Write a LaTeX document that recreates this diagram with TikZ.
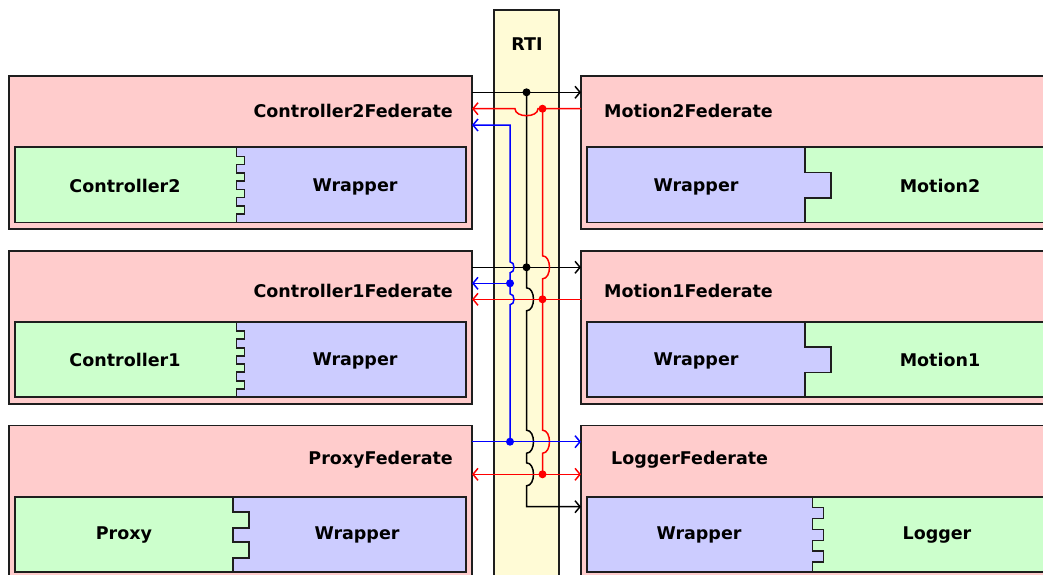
\documentclass[tikz,border=0pt]{standalone}
\usepackage{fontspec}
\setmainfont{DejaVu Sans}
\usetikzlibrary{arrows.meta}
\definecolor{fedpink}{RGB}{255,204,204}
\definecolor{compgreen}{RGB}{204,255,204}
\definecolor{wrapblue}{RGB}{204,204,255}
\definecolor{rtiyellow}{RGB}{255,251,214}
\definecolor{edgec}{RGB}{30,30,30}
\begin{document}
\begin{tikzpicture}[x=1pt,y=-1pt,
  >={Straight Barb[length=5pt,width=12pt]},
  fedbox/.style={draw=edgec, line width=1.6pt, fill=fedpink, anchor=north west, inner sep=0pt, outer sep=0pt, minimum height=153pt},
  rtibox/.style={draw=edgec, line width=1.6pt, fill=rtiyellow, anchor=north west, inner sep=0pt, outer sep=0pt, minimum width=65pt, minimum height=600pt},
  boxline/.style={draw=edgec, line width=1.6pt},
  lbl/.style={font=\fontsize{17.5}{20}\selectfont\bfseries, inner sep=0pt, anchor=base},
  wire/.style={line width=1.5pt},
  dot/.style={radius=4pt}
]
\useasboundingbox (0,0) rectangle (1043,574);
\clip (0,0) rectangle (1043,574);
\fill[white] (0,0) rectangle (1043,574);

% RTI
\node[rtibox] (rti) at (494,10) {};
\node[lbl] (rtit) at (527,50.5) {RTI};

% ---------- Row 1 ----------
\node[fedbox, minimum width=463pt] (c2f) at (9,76) {};
\node[lbl, anchor=base east] (c2ft) at (453,117) {Controller2Federate};
\fill[wrapblue] (236.5,147) rectangle (466,222.5);
\fill[compgreen] (15,147) -- (236.5,147) -- (236.5,156.5) -- (244.5,156.5) -- (244.5,164.5) -- (236.5,164.5) -- (236.5,173) -- (244.5,173) -- (244.5,181) -- (236.5,181) -- (236.5,189.5) -- (244.5,189.5) -- (244.5,197.5) -- (236.5,197.5) -- (236.5,206) -- (244.5,206) -- (244.5,214) -- (236.5,214) -- (236.5,222.5) -- (15,222.5) -- cycle;
\draw[boxline] (236.5,147) -- (236.5,156.5) -- (244.5,156.5) -- (244.5,164.5) -- (236.5,164.5) -- (236.5,173) -- (244.5,173) -- (244.5,181) -- (236.5,181) -- (236.5,189.5) -- (244.5,189.5) -- (244.5,197.5) -- (236.5,197.5) -- (236.5,206) -- (244.5,206) -- (244.5,214) -- (236.5,214) -- (236.5,222.5);
\draw[boxline] (15,147) rectangle (466,222.5);
\node[lbl] (c2) at (125,192) {Controller2};
\node[lbl] (c2w) at (355,191) {Wrapper};

\node[fedbox, minimum width=520pt] (m2f) at (581,76) {};
\node[lbl, anchor=base west] (m2ft) at (604,117) {Motion2Federate};
\fill[compgreen] (805,147) rectangle (1110,222.5);
\fill[wrapblue] (587,147) -- (805,147) -- (805,172.3) -- (830.7,172.3) -- (830.7,197.7) -- (805,197.7) -- (805,222.5) -- (587,222.5) -- cycle;
\draw[boxline] (805,147) -- (805,172.3) -- (830.7,172.3) -- (830.7,197.7) -- (805,197.7) -- (805,222.5);
\draw[boxline] (587,147) rectangle (1110,222.5);
\node[lbl] (m2w) at (696,191) {Wrapper};
\node[lbl] (m2) at (940,192) {Motion2};

% ---------- Row 2 ----------
\node[fedbox, minimum width=463pt] (c1f) at (9,250.7) {};
\node[lbl, anchor=base east] (c1ft) at (453,297.5) {Controller1Federate};
\node[fedbox, minimum width=520pt] (m1f) at (581,250.7) {};
\node[lbl, anchor=base west] (m1ft) at (604,297.5) {Motion1Federate};
\begin{scope}[shift={(0,174.7)}]
\fill[wrapblue] (236.5,147) rectangle (466,222.5);
\fill[compgreen] (15,147) -- (236.5,147) -- (236.5,156.5) -- (244.5,156.5) -- (244.5,164.5) -- (236.5,164.5) -- (236.5,173) -- (244.5,173) -- (244.5,181) -- (236.5,181) -- (236.5,189.5) -- (244.5,189.5) -- (244.5,197.5) -- (236.5,197.5) -- (236.5,206) -- (244.5,206) -- (244.5,214) -- (236.5,214) -- (236.5,222.5) -- (15,222.5) -- cycle;
\draw[boxline] (236.5,147) -- (236.5,156.5) -- (244.5,156.5) -- (244.5,164.5) -- (236.5,164.5) -- (236.5,173) -- (244.5,173) -- (244.5,181) -- (236.5,181) -- (236.5,189.5) -- (244.5,189.5) -- (244.5,197.5) -- (236.5,197.5) -- (236.5,206) -- (244.5,206) -- (244.5,214) -- (236.5,214) -- (236.5,222.5);
\draw[boxline] (15,147) rectangle (466,222.5);
\node[lbl] (c1) at (125,192) {Controller1};
\node[lbl] (c1w) at (355,191) {Wrapper};
\fill[compgreen] (805,147) rectangle (1110,222.5);
\fill[wrapblue] (587,147) -- (805,147) -- (805,172.3) -- (830.7,172.3) -- (830.7,197.7) -- (805,197.7) -- (805,222.5) -- (587,222.5) -- cycle;
\draw[boxline] (805,147) -- (805,172.3) -- (830.7,172.3) -- (830.7,197.7) -- (805,197.7) -- (805,222.5);
\draw[boxline] (587,147) rectangle (1110,222.5);
\node[lbl] (m1w) at (696,191) {Wrapper};
\node[lbl] (m1) at (940,192) {Motion1};
\end{scope}

% ---------- Row 3 ----------
\node[fedbox, minimum width=463pt] (pf) at (9,425.5) {};
\node[lbl, anchor=base east] (pft) at (453,464.5) {ProxyFederate};
\fill[wrapblue] (232.7,496.7) rectangle (466,572.2);
\fill[compgreen] (15,496.7) -- (232.7,496.7) -- (232.7,511.7) -- (248.7,511.7) -- (248.7,527.7) -- (232.7,527.7) -- (232.7,541.7) -- (248.7,541.7) -- (248.7,557.7) -- (232.7,557.7) -- (232.7,572.2) -- (15,572.2) -- cycle;
\draw[boxline] (232.7,496.7) -- (232.7,511.7) -- (248.7,511.7) -- (248.7,527.7) -- (232.7,527.7) -- (232.7,541.7) -- (248.7,541.7) -- (248.7,557.7) -- (232.7,557.7) -- (232.7,572.2);
\draw[boxline] (15,496.7) rectangle (466,572.2);
\node[lbl] (px) at (124,539) {Proxy};
\node[lbl] (pw) at (357,539) {Wrapper};

\node[fedbox, minimum width=520pt] (lf) at (581,425.5) {};
\node[lbl, anchor=base west] (lft) at (611,464.5) {LoggerFederate};
\fill[compgreen] (812.3,496.7) rectangle (1110,572.2);
\fill[wrapblue] (587,496.7) -- (812.3,496.7) -- (812.3,507.3) -- (823.3,507.3) -- (823.3,518.3) -- (812.3,518.3) -- (812.3,529.3) -- (823.3,529.3) -- (823.3,540.3) -- (812.3,540.3) -- (812.3,551) -- (823.3,551) -- (823.3,562) -- (812.3,562) -- (812.3,572.2) -- (587,572.2) -- cycle;
\draw[boxline] (812.3,496.7) -- (812.3,507.3) -- (823.3,507.3) -- (823.3,518.3) -- (812.3,518.3) -- (812.3,529.3) -- (823.3,529.3) -- (823.3,540.3) -- (812.3,540.3) -- (812.3,551) -- (823.3,551) -- (823.3,562) -- (812.3,562) -- (812.3,572.2);
\draw[boxline] (587,496.7) rectangle (1110,572.2);
\node[lbl] (lw) at (699,539) {Wrapper};
\node[lbl] (lg) at (937,539) {Logger};

% ---------- Wires ----------
\coordinate (k1) at (526.5,92.3);
\coordinate (k2) at (526.5,267.3);
\coordinate (k3) at (526.5,506.7);
\coordinate (r1) at (542.5,108.7);
\coordinate (r2) at (542.5,299.3);
\coordinate (r3) at (542.5,474.3);
\coordinate (b0) at (510,125);
\coordinate (b1) at (510,283.3);
\coordinate (b2) at (510,441.7);

% black
\draw[wire,->] (c2f.east |- k1) -- (m2f.west |- k1);
\draw[wire,->] (c1f.east |- k2) -- (m1f.west |- k2);
\draw[wire,->] (k1) -- (526.5,287.8) .. controls +(9.3,0) and +(9.3,0) .. (526.5,310.8)
  -- (526.5,430.2) .. controls +(9.3,0) and +(9.3,0) .. (526.5,453.2)
  -- (526.5,462.8) .. controls +(9.3,0) and +(9.3,0) .. (526.5,485.8)
  -- (k3) -- (lf.west |- k3);
% red
\draw[wire,red,->] (m2f.west |- r1) -- (538,108.7) .. controls +(0,9.3) and +(0,9.3) .. (515,108.7) -- (c2f.east |- r1);
\draw[wire,red,->] (m1f.west |- r2) -- (c1f.east |- r2);
\draw[wire,red,<->] (pf.east |- r3) -- (lf.west |- r3);
\draw[wire,red] (r1) -- (542.5,255.8) .. controls +(9.3,0) and +(9.3,0) .. (542.5,278.8)
  -- (542.5,430.2) .. controls +(9.3,0) and +(9.3,0) .. (542.5,453.2) -- (r3);
% blue
\draw[wire,blue,<-] (c2f.east |- b0) -- (b0) -- (510,261.8) .. controls +(5.3,0) and +(5.3,0) .. (510,272.8)
  -- (510,293.8) .. controls +(5.3,0) and +(5.3,0) .. (510,304.8) -- (b2);
\draw[wire,blue,->] (b1) -- (c1f.east |- b1);
\draw[wire,blue,->] (pf.east |- b2) -- (lf.west |- b2);

% dots
\fill (k1) circle[dot];
\fill (k2) circle[dot];
\fill[red] (r1) circle[dot];
\fill[red] (r2) circle[dot];
\fill[red] (r3) circle[dot];
\fill[blue] (b1) circle[dot];
\fill[blue] (b2) circle[dot];
\end{tikzpicture}
\end{document}
